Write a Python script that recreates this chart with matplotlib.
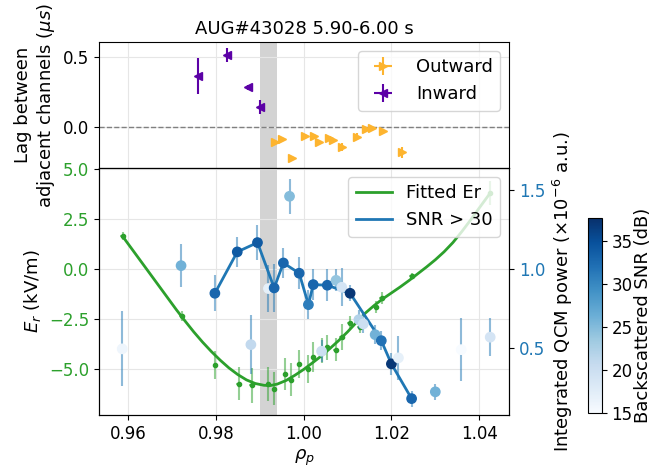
import numpy as np
import matplotlib
matplotlib.use("Agg")
import matplotlib.pyplot as plt
from matplotlib.ticker import MultipleLocator
from matplotlib.cm import ScalarMappable
from matplotlib.colors import Normalize

plt.rcParams['font.size'] = 12
plt.rcParams['axes.labelsize'] = 13
plt.rcParams['axes.titlesize'] = 13
plt.rcParams['legend.fontsize'] = 13

# ---- top panel: lag between adjacent channels ----
out_rho = [0.9935, 0.9950, 0.9973, 1.0003, 1.0024, 1.0036, 1.0057, 1.0067,
           1.0087, 1.0121, 1.0142, 1.0155, 1.0182, 1.0224]
out_lag = [-0.105, -0.086, -0.219, -0.062, -0.062, -0.109, -0.076, -0.095,
           -0.141, -0.069, -0.014, -0.010, -0.029, -0.181]
out_err = [0.012, 0.012, 0.012, 0.010, 0.010, 0.012, 0.010, 0.012,
           0.030, 0.025, 0.010, 0.010, 0.012, 0.040]

in_rho = [0.9760, 0.9825, 0.9874, 0.9901]
in_lag = [0.364, 0.514, 0.283, 0.145]
in_err = [0.131, 0.050, 0.020, 0.050]

# ---- bottom panel: Er measurements and fit ----
er_rho = [0.9588, 0.9722, 0.9799, 0.9852, 0.9882, 0.9920, 0.9933, 0.9958,
          0.9971, 0.9990, 1.0011, 1.0022, 1.0041, 1.0054, 1.0074, 1.0087,
          1.0106, 1.0128, 1.0165, 1.0178, 1.0247, 1.0425]
er_val = [1.63, -2.37, -4.78, -5.75, -5.82, -5.75, -5.98, -5.23,
          -5.53, -4.75, -4.98, -4.38, -4.08, -3.92, -4.03, -3.40,
          -2.70, -2.92, -1.90, -1.45, -0.37, 3.80]
er_err = [0.20, 0.25, 0.70, 0.83, 0.89, 0.85, 0.83, 0.80,
          0.85, 0.70, 0.70, 0.75, 0.63, 0.63, 0.58, 0.63,
          0.33, 0.30, 0.30, 0.30, 0.15, 0.60]

fit_rho = [0.9588, 0.9610, 0.9630, 0.9650, 0.9670, 0.9690, 0.9710, 0.9730,
           0.9750, 0.9770, 0.9790, 0.9810, 0.9830, 0.9850, 0.9870, 0.9890,
           0.9910, 0.9925, 0.9940, 0.9960, 0.9980, 1.0000, 1.0020, 1.0040,
           1.0060, 1.0080, 1.0100, 1.0120, 1.0140, 1.0160, 1.0180, 1.0200,
           1.0220, 1.0240, 1.0260, 1.0280, 1.0300, 1.0320, 1.0340, 1.0360,
           1.0380, 1.0400, 1.0425]
fit_er = [1.63, 0.97, 0.37, -0.23, -0.83, -1.43, -2.03, -2.60,
          -3.15, -3.66, -4.13, -4.56, -4.95, -5.28, -5.55, -5.73,
          -5.82, -5.83, -5.76, -5.58, -5.32, -5.03, -4.70, -4.36,
          -3.98, -3.58, -3.15, -2.68, -2.22, -1.84, -1.50, -1.20,
          -0.90, -0.58, -0.24, 0.10, 0.46, 0.86, 1.32, 1.86,
          2.44, 3.05, 3.80]

# ---- QCM power, coloured by backscattered SNR ----
qcm_rho = [0.9587, 0.9721, 0.9798, 0.9849, 0.9880, 0.9895, 0.9920, 0.9933,
           0.9954, 0.9968, 0.9990, 1.0011, 1.0022, 1.0041, 1.0054, 1.0074,
           1.0087, 1.0106, 1.0126, 1.0136, 1.0163, 1.0177, 1.0200, 1.0216,
           1.0246, 1.0300, 1.0359, 1.0425]
qcm_pow = [0.494, 1.021, 0.846, 1.108, 0.521, 1.167, 0.876, 0.880,
           1.038, 1.460, 0.973, 0.774, 0.901, 0.479, 0.897, 0.928,
           0.884, 0.846, 0.679, 0.652, 0.584, 0.546, 0.399, 0.437,
           0.179, 0.222, 0.489, 0.568]
qcm_err = [0.237, 0.137, 0.113, 0.095, 0.185, 0.110, 0.150, 0.150,
           0.097, 0.110, 0.100, 0.090, 0.100, 0.070, 0.100, 0.070,
           0.120, 0.050, 0.060, 0.060, 0.060, 0.060, 0.070, 0.140,
           0.050, 0.050, 0.200, 0.120]
qcm_snr = [16, 26, 33, 34, 21, 34, 17, 33,
           33, 25, 33, 31, 33, 20, 33, 24,
           19, 37, 22, 20, 26, 32, 37, 17,
           33, 26, 15, 19]

sep_band = (0.990, 0.994)
snr_min, snr_max = 15, 37.7

fig = plt.figure(figsize=(6.51, 4.72), dpi=100)
ax1 = fig.add_axes([0.152, 0.644, 0.630, 0.267])
ax2 = fig.add_axes([0.152, 0.121, 0.630, 0.523], sharex=ax1)
ax3 = ax2.twinx()
cax = fig.add_axes([0.903, 0.125, 0.0215, 0.413])

c_out = '#fdb42f'
c_in = '#5c01a6'

# top panel
ax1.axvspan(*sep_band, color='lightgray', zorder=0, lw=0)
ax1.axhline(0, color='gray', ls='--', lw=1, zorder=1)
ax1.errorbar(out_rho, out_lag, yerr=out_err, xerr=0.0005, fmt='>', ms=5.5,
             color=c_out, label='Outward', zorder=3)
ax1.errorbar(in_rho, in_lag, yerr=in_err, xerr=0.0005, fmt='<', ms=5.5,
             color=c_in, label='Inward', zorder=3)
ax1.set_ylim(-0.293, 0.607)
ax1.yaxis.set_major_locator(MultipleLocator(0.5))
ax1.grid(True, color='#e6e6e6', lw=0.8)
ax1.set_axisbelow(True)
ax1.tick_params(labelbottom=False)
ax1.set_ylabel('Lag between\nadjacent channels ($\\mu s$)')
ax1.set_title('AUG#43028 5.90-6.00 s')
ax1.legend(loc='upper right')

# bottom panel: Er
ax2.axvspan(*sep_band, color='lightgray', zorder=0, lw=0)
ax2.errorbar(er_rho, er_val, yerr=er_err, xerr=0.0006, fmt='o', ms=3,
             color='tab:green', ecolor=(0.17, 0.63, 0.17, 0.5), zorder=2)
ax2.plot(fit_rho, fit_er, color='tab:green', lw=2, label='Fitted Er', zorder=3)
ax2.set_ylim(-7.3, 5.05)
ax2.yaxis.set_major_locator(MultipleLocator(2.5))
ax2.tick_params(axis='y', labelcolor='tab:green')
ax2.grid(True, color='#e6e6e6', lw=0.8)
ax2.set_axisbelow(True)
ax2.set_ylabel('$E_r$ (kV/m)')
ax2.set_xlabel('$\\rho_p$')
ax2.set_xlim(0.9534, 1.0468)

# QCM power on twin axis
rho = np.array(qcm_rho)
pw = np.array(qcm_pow)
snr = np.array(qcm_snr)
ax3.errorbar(rho, pw, yerr=qcm_err, fmt='none', ecolor='tab:blue',
             alpha=0.5, lw=1.5, zorder=2)
hi = snr > 30
ax3.plot(rho[hi], pw[hi], color='tab:blue', lw=2, label='SNR > 30', zorder=3)
ax3.scatter(rho, pw, c=snr, cmap='Blues', vmin=snr_min, vmax=snr_max,
            s=45, zorder=4)
ax3.set_ylim(0.076, 1.639)
ax3.yaxis.set_major_locator(MultipleLocator(0.5))
ax3.tick_params(axis='y', labelcolor='tab:blue')
ax3.set_ylabel('Integrated QCM power ($\\times10^{-6}$ a.u.)')

h2, l2 = ax2.get_legend_handles_labels()
h3, l3 = ax3.get_legend_handles_labels()
ax3.legend(h2 + h3, l2 + l3, loc='upper right')

sm = ScalarMappable(norm=Normalize(snr_min, snr_max), cmap='Blues')
cb = fig.colorbar(sm, cax=cax)
cb.set_ticks([15, 20, 25, 30, 35])
cb.set_label('Backscattered SNR (dB)', labelpad=1)

fig.savefig('out.png', dpi=100)
